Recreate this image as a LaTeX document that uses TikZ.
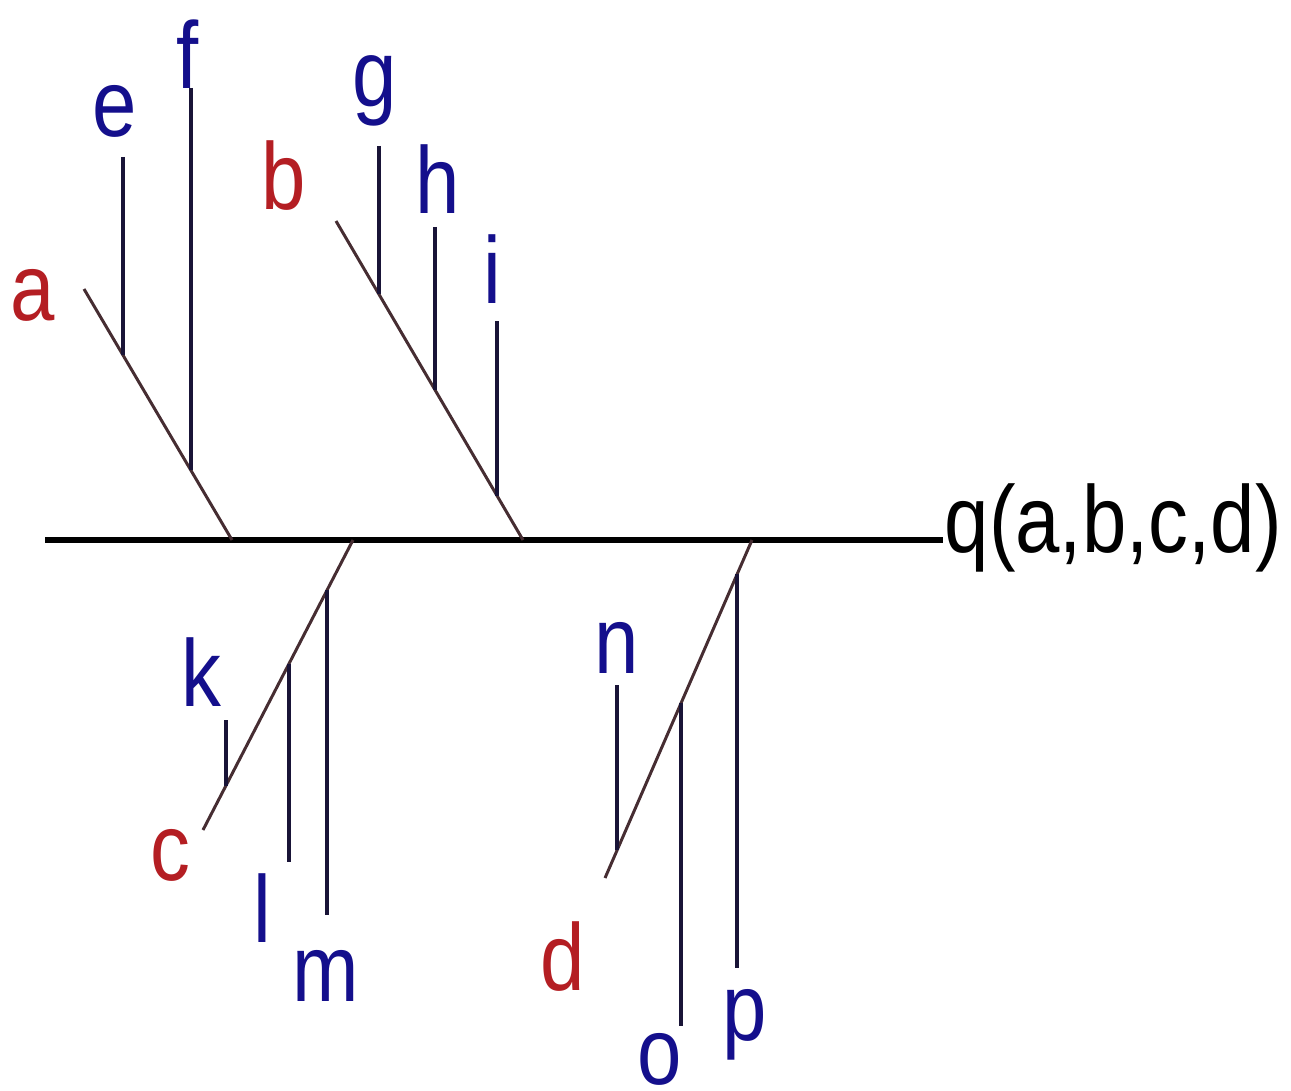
\documentclass[tikz,border=0pt]{standalone}
\usepackage{graphicx}
\usepackage{fontspec}
\setmainfont{Liberation Sans}
\usetikzlibrary{calc}
\definecolor{lblue}{RGB}{20,15,140}
\definecolor{lred}{RGB}{180,30,35}
\definecolor{vline}{RGB}{25,20,55}
\definecolor{bline}{RGB}{70,45,50}
\newcommand\nar[1]{\scalebox{0.84}[1]{#1}}
\begin{document}
\begin{tikzpicture}[x=0.01cm,y=-0.01cm,
  lbl/.style={font=\fontsize{27}{27}\selectfont, anchor=base, inner sep=0pt},
  bluelbl/.style={lbl, text=lblue},
  redlbl/.style={lbl, text=lred},
  mainline/.style={draw=black, line width=1.45pt},
  branchline/.style={draw=bline, line width=0.85pt},
  subline/.style={draw=vline, line width=1.1pt}]
\useasboundingbox (0,0) rectangle (1291,1091);

% main line and effect
\coordinate (m0) at (45,540);
\coordinate (m1) at (943,540);
\draw[mainline] (m0) -- (m1);
\node[lbl, anchor=base west, text=black] (q) at (944,552) {\nar{q(a,b,c,d)}};

% branch a
\coordinate (a0) at (84,289);
\coordinate (a1) at (232,540);
\draw[branchline] (a0) -- (a1);
\node[redlbl] (la) at (33,320) {\nar{a}};
\coordinate (ej) at ($(a0)!0.264!(a1)$);
\coordinate (fj) at ($(a0)!0.723!(a1)$);
\coordinate (e0) at (ej |- 0,157);
\coordinate (f0) at (fj |- 0,88);
\draw[subline] (e0) -- (ej);
\draw[subline] (f0) -- (fj);
\node[bluelbl] (le) at (115,137) {\nar{e}};
\node[bluelbl] (lf) at (188,89) {\nar{f}};

% branch b
\coordinate (b0) at (336,221);
\coordinate (b1) at (523,540);
\draw[branchline] (b0) -- (b1);
\node[redlbl] (lb) at (284,209) {\nar{b}};
\coordinate (gj) at ($(b0)!0.230!(b1)$);
\coordinate (hj) at ($(b0)!0.529!(b1)$);
\coordinate (ij) at ($(b0)!0.861!(b1)$);
\coordinate (g0) at (gj |- 0,146);
\coordinate (h0) at (hj |- 0,227);
\coordinate (i0) at (ij |- 0,321);
\draw[subline] (g0) -- (gj);
\draw[subline] (h0) -- (hj);
\draw[subline] (i0) -- (ij);
\node[bluelbl] (lg) at (375,107) {\nar{g}};
\node[bluelbl] (lh) at (438,214) {\nar{h}};
\node[bluelbl] (li) at (492,304) {\nar{i}};

% branch c
\coordinate (c0) at (353,540);
\coordinate (c1) at (203,830);
\draw[branchline] (c0) -- (c1);
\node[redlbl] (lc) at (170,880) {\nar{c}};
\coordinate (mj) at ($(c0)!0.173!(c1)$);
\coordinate (lj) at ($(c0)!0.427!(c1)$);
\coordinate (kj) at ($(c0)!0.847!(c1)$);
\coordinate (m2) at (mj |- 0,915);
\coordinate (l2) at (lj |- 0,862);
\coordinate (k2) at (kj |- 0,720);
\draw[subline] (mj) -- (m2);
\draw[subline] (lj) -- (l2);
\draw[subline] (k2) -- (kj);
\node[bluelbl] (lk) at (201,706) {\nar{k}};
\node[bluelbl] (ll) at (262,942) {\nar{l}};
\node[bluelbl] (lm) at (326,1001) {\nar{m}};

% branch d
\coordinate (d0) at (752,540);
\coordinate (d1) at (605,878);
\draw[branchline] (d0) -- (d1);
\node[redlbl] (ld) at (563,990) {\nar{d}};
\coordinate (pj) at ($(d0)!0.102!(d1)$);
\coordinate (oj) at ($(d0)!0.483!(d1)$);
\coordinate (nj) at ($(d0)!0.918!(d1)$);
\coordinate (p2) at (pj |- 0,968);
\coordinate (o2) at (oj |- 0,1026);
\coordinate (n2) at (nj |- 0,685);
\draw[subline] (pj) -- (p2);
\draw[subline] (oj) -- (o2);
\draw[subline] (n2) -- (nj);
\node[bluelbl] (ln) at (617,673) {\nar{n}};
\node[bluelbl] (lo) at (660,1084) {\nar{o}};
\node[bluelbl] (lp) at (745,1040) {\nar{p}};
\end{tikzpicture}
\end{document}
